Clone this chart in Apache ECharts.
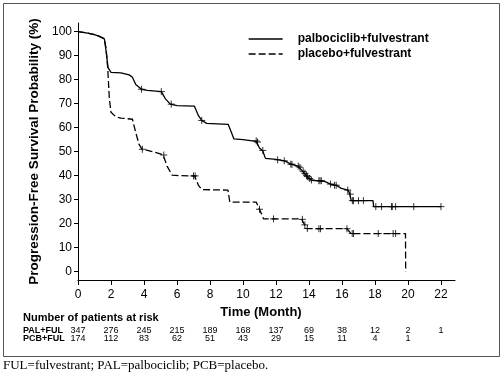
<!DOCTYPE html>
<html><head><meta charset="utf-8">
<script src="https://cdn.jsdelivr.net/npm/echarts@6/dist/echarts.min.js"></script>
<style>html,body{margin:0;padding:0;background:#fff}#c{width:504px;height:374px}</style>
</head><body><div id="c"></div>
<script>
const seriesNames = ['palbociclib+fulvestrant', 'placebo+fulvestrant'];
const xTicks = [0, 2, 4, 6, 8, 10, 12, 14, 16, 18, 20, 22];
const yTicks = [0, 10, 20, 30, 40, 50, 60, 70, 80, 90, 100];
const palRisk = [347, 276, 245, 215, 189, 168, 137, 69, 38, 12, 2, 1];
const pcbRisk = [174, 112, 83, 62, 51, 43, 29, 15, 11, 4, 1, ''];
const riskLabels = ['PAL+FUL', 'PCB+FUL'];

const palCurve = [[0,100],[0.5,99.5],[1.0,98.8],[1.3,98],[1.6,97],[1.72,91],[1.82,85],[2.0,83],[2.6,82.8],[3.1,82],[3.3,81],[3.5,78],[3.85,76],[4.2,75.5],[5.05,75],[5.3,72],[5.6,69.8],[6.0,69.2],[7.05,69],[7.3,65],[7.5,63],[7.8,61.8],[9.1,61.4],[9.3,58],[9.45,55.3],[10.0,55],[10.8,54.3],[11.0,51.5],[11.2,50.3],[11.36,47.2],[12.0,46.8],[12.5,46.2],[12.75,45.4],[12.95,44.7],[13.33,44],[13.64,41.7],[13.85,39.9],[14.04,38.6],[14.2,38],[14.95,37.6],[15.3,36.5],[15.65,36],[15.96,34.7],[16.36,34],[16.46,32.7],[16.56,29.6],[17.88,29.6],[17.92,27.1],[22.0,27.1]];
const pcbCurve = [[0,100],[0.5,99.5],[1.0,98.8],[1.3,98],[1.6,97],[1.7,93],[1.8,85],[1.9,72],[2.0,66.4],[2.3,64.5],[2.6,64],[3.3,63.5],[3.5,58],[3.7,53],[3.88,51.1],[4.5,50],[5.15,48.8],[5.4,44],[5.7,40.2],[6.2,40],[7.07,39.9],[7.3,36],[7.5,34.2],[9.09,34],[9.2,29],[10.8,29],[11.0,26],[11.25,22],[13.55,22],[13.85,17.9],[16.3,17.9],[16.55,15.9],[19.85,15.9],[19.86,0]];
const palCensor = [[3.85,76],[5.05,75],[5.65,69.8],[7.5,63],[10.8,54.5],[10.88,54],[11.2,50.5],[12.1,46.6],[12.5,46.2],[12.9,44.8],[12.97,44.7],[13.35,44],[13.45,43.5],[13.65,41.8],[13.75,41],[13.85,40],[13.92,39.6],[14.05,38.8],[14.15,38.2],[14.6,37.9],[14.67,37.9],[14.75,37.9],[15.3,36.5],[15.55,36],[15.65,36],[16.35,34],[16.5,32.3],[16.63,29.6],[16.7,29.6],[17.0,29.6],[17.3,29.6],[18.05,27.1],[18.4,27.1],[19.0,27.1],[19.05,27.1],[19.25,27.1],[20.35,27.1],[22.0,27.1]];
const pcbCensor = [[3.9,51],[5.2,48.6],[7.0,39.9],[7.1,39.9],[11.0,26],[11.85,22],[13.6,21.8],[13.75,19.5],[13.9,18],[14.6,17.9],[14.7,17.9],[16.3,17.9],[16.62,15.9],[16.7,15.9],[18.2,15.9],[19.1,15.9],[19.25,15.9]];

const FONT = 'Arial, "Liberation Sans", sans-serif';
const chart = echarts.init(document.getElementById('c'), null, {renderer: 'canvas'});
const plus = 'path://M5,0L5,10M0,5L10,5';

function riskAxis(values, offset) {
  return {
    type: 'value', min: 0, max: 22.85, position: 'bottom', offset: offset, gridIndex: 0,
    axisLine: {show: false}, axisTick: {show: false}, splitLine: {show: false},
    axisLabel: {
      customValues: xTicks, margin: 0, fontSize: 9, color: '#000', fontFamily: FONT,
      formatter: v => { const i = xTicks.indexOf(v); return i >= 0 ? String(values[i]) : ''; }
    }
  };
}

chart.setOption({
  animation: false,
  backgroundColor: '#fff',
  grid: {left: 78, right: 49, top: 23, bottom: 94},
  legend: {
    data: seriesNames, orient: 'vertical', left: 248, top: 33, padding: 0,
    itemWidth: 34, itemHeight: 14, itemGap: 3,
    itemStyle: {color: 'rgba(0,0,0,0)', borderWidth: 0, opacity: 0},
    lineStyle: {width: 1.3},
    textStyle: {fontSize: 12, fontWeight: 'bold', color: '#000', fontFamily: FONT, padding: [0, 0, 0, 10]}
  },
  xAxis: [
    {
      type: 'value', min: 0, max: 22.85,
      name: 'Time (Month)', nameLocation: 'middle', nameGap: 23,
      nameTextStyle: {fontSize: 13, fontWeight: 'bold', color: '#000', fontFamily: FONT, padding: [0, 11, 0, 0]},
      axisLine: {show: true, onZero: false, lineStyle: {color: '#000', width: 1}},
      axisTick: {show: true, length: 5, customValues: xTicks, lineStyle: {color: '#000'}},
      axisLabel: {customValues: xTicks, margin: 9, fontSize: 12, color: '#000', fontFamily: FONT},
      splitLine: {show: false}
    },
    riskAxis(palRisk, 46),
    riskAxis(pcbRisk, 54)
  ],
  yAxis: {
    type: 'value', min: -3.46, max: 103.6,
    name: 'Progression-Free Survival Probability (%)', nameLocation: 'middle', nameGap: 23, nameRotate: 90,
    nameTextStyle: {fontSize: 13.5, fontWeight: 'bold', color: '#000', fontFamily: FONT},
    axisLine: {show: true, onZero: false, lineStyle: {color: '#000', width: 1}},
    axisTick: {show: true, length: 4, customValues: yTicks, lineStyle: {color: '#000'}},
    axisLabel: {customValues: yTicks, margin: 6, fontSize: 12, color: '#000', fontFamily: FONT},
    splitLine: {show: false}
  },
  series: [
    {name: seriesNames[0], type: 'line', data: palCurve, symbol: 'none', silent: true,
     lineStyle: {color: '#000', width: 1.3, type: 'solid'}, itemStyle: {color: '#000'}},
    {name: seriesNames[1], type: 'line', data: pcbCurve, symbol: 'none', silent: true,
     lineStyle: {color: '#000', width: 1.3, type: [7, 3]}, itemStyle: {color: '#000'}},
    {name: 'palCensor', type: 'scatter', data: palCensor, symbol: plus, symbolSize: 7, silent: true,
     itemStyle: {color: 'rgba(0,0,0,0)', borderColor: '#000', borderWidth: 1}},
    {name: 'pcbCensor', type: 'scatter', data: pcbCensor, symbol: plus, symbolSize: 7, silent: true,
     itemStyle: {color: 'rgba(0,0,0,0)', borderColor: '#000', borderWidth: 1}}
  ],
  graphic: [
    {type: 'rect', shape: {x: 3.5, y: 3.5, width: 496, height: 353}, style: {fill: 'none', stroke: '#555', lineWidth: 1}, silent: true},
    {type: 'text', left: 23, top: 312, style: {text: 'Number of patients at risk', font: 'bold 11px ' + FONT, fill: '#000'}},
    {type: 'text', left: 23, top: 326, style: {text: riskLabels[0], font: 'bold 9px ' + FONT, fill: '#000'}},
    {type: 'text', left: 23, top: 334, style: {text: riskLabels[1], font: 'bold 9px ' + FONT, fill: '#000'}},
    {type: 'text', left: 3, top: 359, style: {text: 'FUL=fulvestrant; PAL=palbociclib; PCB=placebo.', font: '13px "Liberation Serif", "Times New Roman", serif', fill: '#000'}}
  ]
});
</script></body></html>
